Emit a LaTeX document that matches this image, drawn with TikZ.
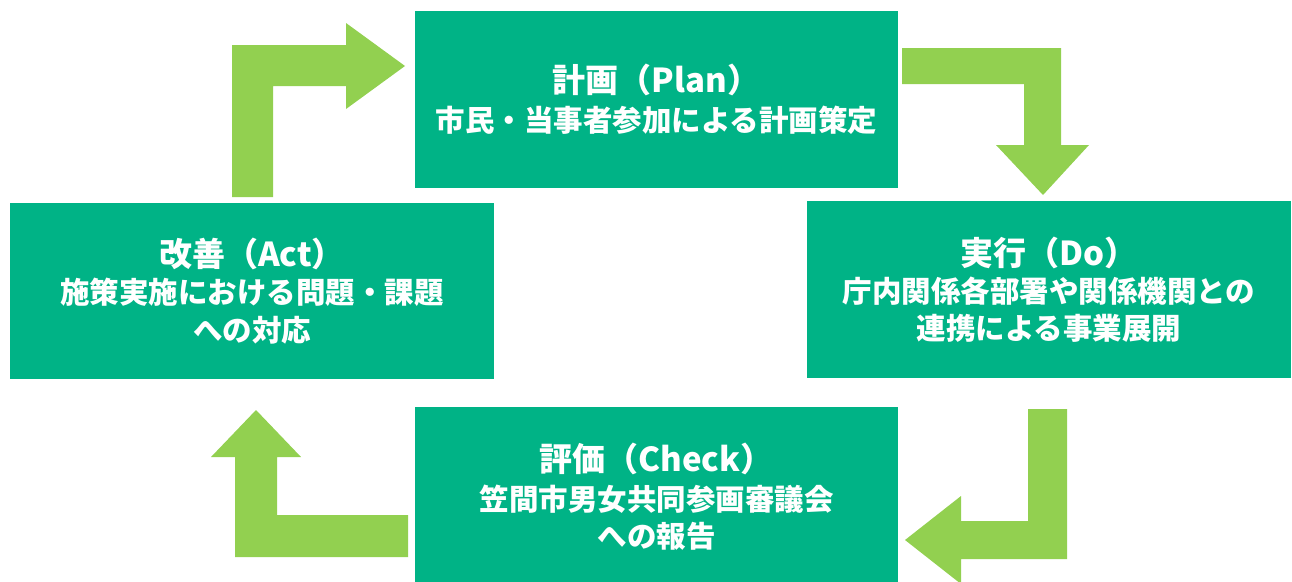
\documentclass[tikz,border=0pt]{standalone}
\usepackage{fontspec}
\newfontfamily\jp{Noto Sans CJK JP}
\definecolor{boxgreen}{RGB}{0,179,134}
\definecolor{arrowgreen}{RGB}{146,208,80}
\newcommand{\ttl}[1]{{\fontsize{33}{40}\selectfont #1}}
\begin{document}
\begin{tikzpicture}[x=1pt,y=-1pt,
  phase/.style={fill=boxgreen, draw=none, text=white, align=center, inner sep=0pt,
    minimum width=483pt, minimum height=177pt, font=\jp\bfseries\fontsize{29.5}{37}\selectfont},
  bigarrow/.style={fill=arrowgreen, draw=none}]
\useasboundingbox (0,0) rectangle (1292,581);
\node[phase] (plan) at (656.5,99.5) {\ttl{計画（Plan）}\\[2pt]市民・当事者参加による計画策定};
\node[phase, minimum width=484pt] (do) at (1049,289.5) {\ttl{実行（Do）}\\ 庁内関係各部署や関係機関との\\ 連携による事業展開};
\node[phase, minimum width=484pt, minimum height=176pt] (act) at (252,291) {\ttl{改善（Act）}\\ 施策実施における問題・課題\\[1pt] への対応};
\node[phase, minimum height=180pt] (check) at (656.5,497) {\ttl{評価（Check）}\\[2pt] 笠間市男女共同参画審議会\\ への報告};
% Act -> Plan
\fill[bigarrow] (232,197) -- (232,45) -- (346,45) -- (346,23) -- (405,66) -- (346,109) -- (346,86) -- (273,86) -- (273,197) -- cycle;
% Plan -> Do
\fill[bigarrow] (902,48) -- (1061,48) -- (1061,145) -- (1089,145) -- (1043,195) -- (996,145) -- (1024,145) -- (1024,84) -- (902,84) -- cycle;
% Do -> Check
\fill[bigarrow] (1028,409) -- (1067,409) -- (1067,559) -- (961,559) -- (961,584) -- (905,540) -- (961,496) -- (961,521) -- (1028,521) -- cycle;
% Check -> Act
\fill[bigarrow] (408,515) -- (408,557) -- (235,557) -- (235,457) -- (211,457) -- (256,410) -- (301,457) -- (277,457) -- (277,515) -- cycle;
\end{tikzpicture}
\end{document}
